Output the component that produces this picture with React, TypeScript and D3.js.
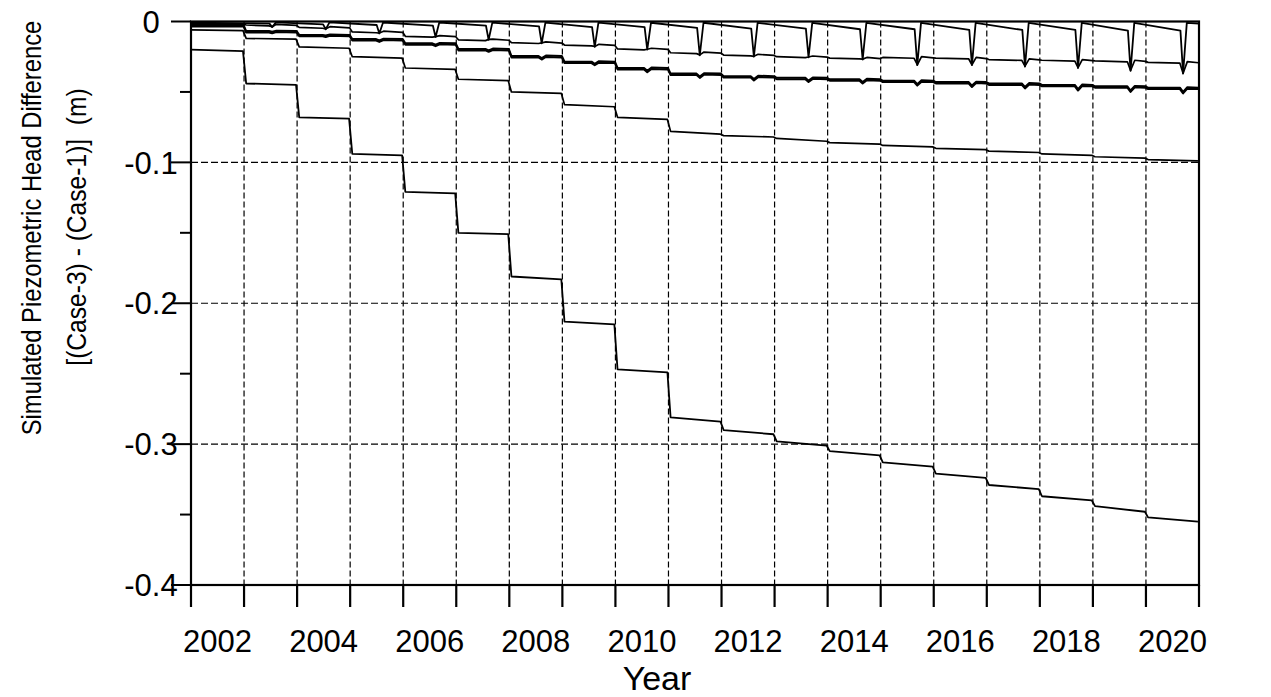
import React, { useEffect, useRef } from 'react';
import * as d3 from 'd3';

// ---------- data ----------
const YEARS = [2002, 2003, 2004, 2005, 2006, 2007, 2008, 2009, 2010, 2011, 2012, 2013, 2014, 2015, 2016, 2017, 2018, 2019, 2020];
const X_LABELS = [2002, 2004, 2006, 2008, 2010, 2012, 2014, 2016, 2018, 2020];
const Y_TICKS = [0, -0.1, -0.2, -0.3, -0.4];
const Y_MINOR = [-0.05, -0.15, -0.25, -0.35];
const Y_GRID = [-0.1, -0.2, -0.3];

// times of the periodic drawdown spikes (one per year from 2003)
const DIP_TIMES = [2003.53, 2004.54, 2005.55, 2006.61, 2007.61, 2008.61, 2009.61, 2010.6, 2011.59, 2012.61, 2013.64, 2014.66, 2015.69, 2016.72, 2017.72, 2018.72, 2019.71, 2020.7];

// top series (spiky)
const A_PRE = [-0.0015, -0.002, -0.0025, -0.003, -0.003, -0.0035, -0.004, -0.004, -0.0045, -0.005, -0.005, -0.0055, -0.0055, -0.006, -0.006, -0.006, -0.0065, -0.0065];
const A_DIP = [-0.004, -0.0055, -0.0085, -0.011, -0.013, -0.0155, -0.018, -0.02, -0.024, -0.025, -0.0255, -0.027, -0.031, -0.031, -0.032, -0.033, -0.035, -0.037];
const A_REC = [-0.0006, -0.0006, -0.0007, -0.0007, -0.0008, -0.0008, -0.0008, -0.0009, -0.0009, -0.001, -0.001, -0.001, -0.001, -0.001, -0.001, -0.001, -0.001, -0.001];
const A_START = -0.0008;
const A_END = -0.0015;

// second series
const B_LEVEL = [-0.0015, -0.0025, -0.0042, -0.0074, -0.0105, -0.013, -0.015, -0.0167, -0.0195, -0.0222, -0.0238, -0.025, -0.026, -0.0255, -0.026, -0.027, -0.0275, -0.028, -0.029];

// thick pair
const C_LEVEL = [-0.0025, -0.0068, -0.0095, -0.0125, -0.0155, -0.0195, -0.0245, -0.0285, -0.033, -0.037, -0.0388, -0.04, -0.041, -0.042, -0.043, -0.044, -0.045, -0.046, -0.047];
const D_LEVEL = [-0.0035, -0.0078, -0.0105, -0.0135, -0.0165, -0.0205, -0.0255, -0.0295, -0.034, -0.038, -0.0398, -0.041, -0.042, -0.043, -0.044, -0.045, -0.046, -0.047, -0.048];
const CD_DIP = [0.0005, 0.0005, 0.001, 0.001, 0.001, 0.0015, 0.0015, 0.002, 0.002, 0.002, 0.002, 0.002, 0.0025, 0.0025, 0.0025, 0.003, 0.003, 0.003];

// fourth series (ends near -0.1)
const E_START = [-0.006, -0.012, -0.018, -0.025, -0.033, -0.041, -0.05, -0.059, -0.068, -0.078, -0.081, -0.083, -0.086, -0.088, -0.09, -0.092, -0.094, -0.096, -0.098];
const E_END = [-0.0065, -0.0125, -0.019, -0.026, -0.034, -0.042, -0.051, -0.0605, -0.0695, -0.08, -0.082, -0.085, -0.087, -0.089, -0.091, -0.093, -0.095, -0.097, -0.099];

// staircase series
const S_START = [-0.02, -0.044, -0.068, -0.094, -0.121, -0.15, -0.181, -0.213, -0.247, -0.281, -0.29, -0.298, -0.305, -0.313, -0.321, -0.329, -0.337, -0.344, -0.352];
const S_END = [-0.021, -0.045, -0.069, -0.095, -0.122, -0.151, -0.183, -0.215, -0.249, -0.284, -0.293, -0.301, -0.308, -0.316, -0.324, -0.332, -0.34, -0.348, -0.355];

type P = [number, number];

function seriesA(): P[] {
  const pts: P[] = [[YEARS[0], A_START]];
  DIP_TIMES.forEach((t, k) => {
    pts.push([t - 0.05, A_PRE[k]]);
    pts.push([t, A_DIP[k]]);
    pts.push([t + 0.07, A_REC[k]]);
  });
  pts.push([YEARS[YEARS.length - 1] + 1, A_END]);
  return pts;
}

function seriesB(): P[] {
  const pts: P[] = [];
  YEARS.forEach((yr, i) => {
    const lv = B_LEVEL[i];
    pts.push([i === 0 ? yr : yr + 0.04, lv]);
    if (i >= 1) {
      const k = i - 1;
      const t = DIP_TIMES[k];
      pts.push([t - 0.06, lv - 0.0006]);
      pts.push([t, A_DIP[k] + 0.0003]);
      pts.push([t + 0.08, lv + 0.0005]);
    }
    pts.push([yr + 0.99, lv - 0.0003]);
  });
  return pts;
}

function seriesCD(levels: number[]): P[] {
  const pts: P[] = [];
  YEARS.forEach((yr, i) => {
    const lv = levels[i];
    pts.push([i === 0 ? yr : yr + 0.04, lv]);
    if (i >= 1) {
      const k = i - 1;
      const t = DIP_TIMES[k];
      pts.push([t - 0.06, lv]);
      pts.push([t, lv - CD_DIP[k]]);
      pts.push([t + 0.08, lv + 0.0003]);
    }
    pts.push([yr + 0.99, lv]);
  });
  return pts;
}

function seriesStep(starts: number[], ends: number[]): P[] {
  const pts: P[] = [];
  YEARS.forEach((yr, i) => {
    pts.push([i === 0 ? yr : yr + 0.04, starts[i]]);
    pts.push([yr + 0.98, ends[i]]);
  });
  return pts;
}

const W = 1271;
const H = 697;

export default function App() {
  const ref = useRef<SVGSVGElement>(null);

  useEffect(() => {
    const svg = d3.select(ref.current);
    svg.selectAll('*').remove();

    const x = d3.scaleLinear().domain([2002, 2021]).range([191, 1199]);
    const y = d3.scaleLinear().domain([-0.4, 0]).range([585, 21.5]);
    const [x0, x1] = x.range();
    const [yb, yt] = y.range();

    const g = svg.append('g');

    // grid
    const gridYears = d3.range(2003, 2021);
    g.selectAll('line.vg').data(gridYears).enter().append('line')
      .attr('x1', d => x(d)).attr('x2', d => x(d))
      .attr('y1', yt).attr('y2', yb)
      .attr('stroke', '#000').attr('stroke-width', 1.2).attr('stroke-dasharray', '6,3');
    g.selectAll('line.hg').data(Y_GRID).enter().append('line')
      .attr('x1', x0).attr('x2', x1)
      .attr('y1', d => y(d)).attr('y2', d => y(d))
      .attr('stroke', '#000').attr('stroke-width', 1.2).attr('stroke-dasharray', '7,3');

    // series
    const line = d3.line<P>().x(d => x(d[0])).y(d => y(d[1]));
    const series: { pts: P[]; w: number }[] = [
      { pts: seriesStep(S_START, S_END), w: 1.8 },
      { pts: seriesStep(E_START, E_END), w: 1.7 },
      { pts: seriesCD(D_LEVEL), w: 2 },
      { pts: seriesCD(C_LEVEL), w: 2 },
      { pts: seriesB(), w: 1.7 },
      { pts: seriesA(), w: 1.8 },
    ];
    g.selectAll('path.s').data(series).enter().append('path')
      .attr('d', d => line(d.pts))
      .attr('fill', 'none').attr('stroke', '#000')
      .attr('stroke-width', d => d.w).attr('stroke-linejoin', 'round');

    // frame
    g.append('rect').attr('x', x0).attr('y', yt).attr('width', x1 - x0).attr('height', yb - yt)
      .attr('fill', 'none').attr('stroke', '#000').attr('stroke-width', 2.2);

    // y ticks
    g.selectAll('line.yt').data(Y_TICKS).enter().append('line')
      .attr('x1', x0 - 20).attr('x2', x0).attr('y1', d => y(d)).attr('y2', d => y(d))
      .attr('stroke', '#000').attr('stroke-width', 2);
    g.selectAll('line.ym').data(Y_MINOR).enter().append('line')
      .attr('x1', x0 - 11).attr('x2', x0).attr('y1', d => y(d)).attr('y2', d => y(d))
      .attr('stroke', '#000').attr('stroke-width', 2);
    // x ticks
    g.selectAll('line.xt').data(d3.range(2002, 2022)).enter().append('line')
      .attr('x1', d => x(d)).attr('x2', d => x(d)).attr('y1', yb).attr('y2', yb + 22)
      .attr('stroke', '#000').attr('stroke-width', 2.2);

    const font = 'Liberation Sans, Arial, sans-serif';
    g.selectAll('text.yl').data(Y_TICKS).enter().append('text')
      .attr('x', 151).attr('y', d => y(d)).attr('dy', '0.36em')
      .attr('text-anchor', 'middle').attr('font-family', font).attr('font-size', 31)
      .text(d => (d === 0 ? '0' : d3.format('.1f')(d)).replace('−', '-'));

    g.selectAll('text.xl').data(X_LABELS).enter().append('text')
      .attr('x', d => x(d + 0.5)).attr('y', 652)
      .attr('text-anchor', 'middle').attr('font-family', font).attr('font-size', 31)
      .text(d => String(d));

    g.append('text').attr('x', 657).attr('y', 689.5).attr('text-anchor', 'middle')
      .attr('font-family', font).attr('font-size', 34).text('Year');

    // y-axis title: tall, narrow glyphs (scaled in glyph-height direction)
    g.append('text').attr('transform', 'translate(41,228) rotate(-90) scale(1,1.15)')
      .attr('text-anchor', 'middle').attr('font-family', font).attr('font-size', 23.8)
      .text('Simulated Piezometric Head Difference');
    g.append('text').attr('transform', 'translate(86,227) rotate(-90) scale(1,1.15)')
      .attr('text-anchor', 'middle').attr('font-family', font).attr('font-size', 24.6)
      .style('white-space', 'pre')
      .text('[(Case-3) - (Case-1)]  (m)');
  }, []);

  return (
    <svg ref={ref} width={W} height={H}
      style={{ position: 'absolute', left: 0, top: 0, background: '#fff' }} />
  );
}
